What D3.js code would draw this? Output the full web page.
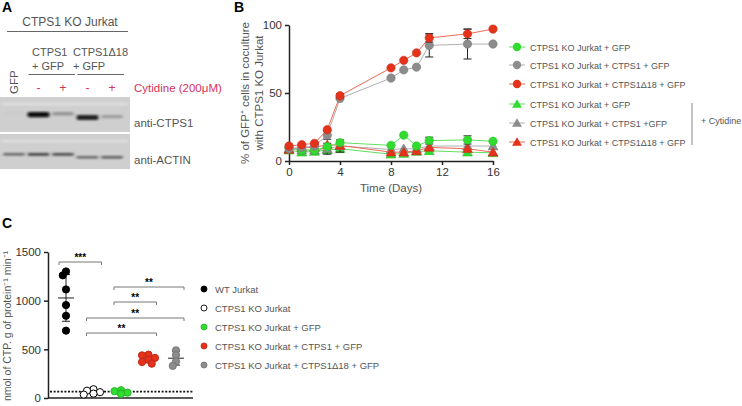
<!DOCTYPE html>
<meta charset="utf-8">
<style>
body { margin: 0; background: #fff; }
svg { font-family: "Liberation Sans", Arial, sans-serif; }
.axis path, .axis line { stroke: #222; stroke-width: 1.5px; }
.axis text { font-size: 11.5px; fill: #333; font-family: "Liberation Sans", Arial, sans-serif; }
.lbl { fill: #555; }
</style>
<body>
<script src="https://d3js.org/d3.v7.min.js"></script>
<script>

// ---- panel A: blot lanes and band strengths (0..1)
const lanes = ["GFP", "CTPS1 -", "CTPS1 +", "CTPS1Δ18 -", "CTPS1Δ18 +"];
const cytidine = ["", "-", "+", "-", "+"];
const ctpsBand = [0.02, 0.95, 0.3, 0.85, 0.25];
const actinBand = [0.55, 0.7, 0.65, 0.55, 0.6];

// ---- panel B: coculture time course
const days = [0, 1, 2, 3, 4, 8, 9, 10, 11, 14, 16];
const koGfp      = [10, 8, 8, 10.5, 13.5, 11.5, 19, 11, 15, 15.5, 14.5];
const ctpsGfp    = [9, 10, 11, 19, 46, 61, 67, 69, 85, 86, 86];
const d18Gfp     = [11, 12, 13, 23, 48, 68.5, 74, 79.5, 90.5, 93.5, 97];
const koGfpCyt   = [8, 6.5, 7, 8, 9, 5, 5.5, 7, 7.5, 6.5, 6];
const ctpsGfpCyt = [9, 8, 8, 9, 11, 8.5, 9, 9, 11, 11, 11];
const d18GfpCyt  = [8.5, 10, 10, 12, 11.5, 6.5, 6.5, 7.5, 10, 9, 6.5];
const koGfpSd      = [0, 0, 0, 0, 0, 0, 0, 0, 2.5, 3, 0];
const ctpsGfpSd    = [0, 0, 0, 3, 0, 0, 0, 0, 8.5, 11, 0];
const d18GfpSd     = [0, 0, 0, 0, 1.5, 0, 0, 0, 3, 3.5, 0];
const ctpsGfpCytSd = [0, 0, 0, 4, 4.5, 0, 0, 0, 0, 0, 0];
const xTicksB = [0, 4, 8, 12, 16];
const yTicksB = [0, 50, 100];

// ---- panel C: CTP synthase activity
const groupsC = ["WT Jurkat", "CTPS1 KO Jurkat", "CTPS1 KO Jurkat +  GFP",
                 "CTPS1 KO Jurkat + CTPS1 + GFP", "CTPS1 KO Jurkat + CTPS1Δ18 + GFP"];
const wtVals   = [1300, 1260, 1115, 955, 845, 692];
const koVals   = [90, 75, 60, 45, 35];
const gfpVals  = [80, 70, 55, 48, 42];
const ctpsVals = [445, 438, 412, 392, 370, 352];
const d18Vals  = [490, 440, 375, 330];
const detectLimit = 65;
const yTicksC = [0, 500, 1000, 1500];
const sigC = [
  { from: 0, to: 1, label: "***" },
  { from: 2, to: 4, label: "**" },
  { from: 2, to: 3, label: "**" },
  { from: 1, to: 4, label: "**" },
  { from: 1, to: 3, label: "**" }
];

const red = "#e5321b", grey = "#8c8c8c", green = "#2fdc2f";

const svg = d3.select("body").append("svg")
    .attr("width", 742).attr("height", 406);

const defs = svg.append("defs");
defs.append("filter").attr("id", "blur").attr("x", "-50%").attr("width", "200%")
  .attr("y", "-100%").attr("height", "300%")
  .append("feGaussianBlur").attr("stdDeviation", "1.8 0.9");

// ================= Panel A =================
const A = svg.append("g");
A.append("text").attr("x", 2).attr("y", 12).attr("font-size", 14).attr("font-weight", "bold").text("A");

const laneX = d3.scalePoint().domain(lanes).range([14, 112]);

A.append("text").attr("x", 70).attr("y", 26).attr("text-anchor", "middle")
  .attr("font-size", 12).attr("class", "lbl").text("CTPS1 KO Jurkat");
A.append("line").attr("x1", 7).attr("x2", 128).attr("y1", 31.5).attr("y2", 31.5).attr("stroke", "#666");

[["CTPS1", 1, 2, 32], ["CTPS1Δ18", 3, 4, 73]].forEach(([name, a, b, tx]) => {
  A.append("text").attr("x", tx).attr("y", 56).attr("font-size", 11).attr("class", "lbl").text(name);
  A.append("text").attr("x", tx).attr("y", 70).attr("font-size", 11).attr("class", "lbl").text("+ GFP");
  A.append("line").attr("x1", laneX(lanes[a]) - 10).attr("x2", laneX(lanes[b]) + 12)
    .attr("y1", 74.5).attr("y2", 74.5).attr("stroke", "#666");
});

A.append("text").attr("transform", `translate(${laneX(lanes[0]) + 4},94) rotate(-90)`)
  .attr("font-size", 11.5).attr("class", "lbl").text("GFP");
A.selectAll(".cyt").data(cytidine).join("text")
  .attr("x", (d, i) => laneX(lanes[i])).attr("y", 92).attr("text-anchor", "middle")
  .attr("font-size", 12).attr("fill", "#d6315a").text(d => d);
A.append("text").attr("x", 134).attr("y", 92).attr("font-size", 11.5).attr("fill", "#d6315a")
  .text("Cytidine (200μM)");

function blot(y0, h, vals, bandY, bandH, label) {
  A.append("rect").attr("x", 0).attr("y", y0).attr("width", 130).attr("height", h).attr("fill", "#cfcfcf");
  A.append("rect").attr("x", 2).attr("y", y0 + 6).attr("width", 126).attr("height", 2)
    .attr("fill", "#e2e2e2").attr("filter", "url(#blur)");
  A.selectAll(null).data(vals).join("rect")
    .attr("x", (d, i) => laneX(lanes[i]) - 11)
    .attr("y", (d, i) => bandY + (i >= 3 ? 3 : 0))
    .attr("width", 22).attr("height", d => bandH * (0.5 + d * 0.6))
    .attr("rx", 2)
    .attr("fill", d => d3.interpolateGreys(0.3 + d * 0.7))
    .attr("filter", "url(#blur)");
  A.append("text").attr("x", 134).attr("y", y0 + h - 5).attr("font-size", 11.5).attr("class", "lbl").text(label);
}
blot(97, 35, ctpsBand, 112, 5, "anti-CTPS1");
blot(134, 35, actinBand, 153, 3, "anti-ACTIN");

// ================= Panel B =================
const B = svg.append("g");
B.append("text").attr("x", 234).attr("y", 12).attr("font-size", 14).attr("font-weight", "bold").text("B");

const xB = d3.scaleLinear().domain([0, 16]).range([289, 493]);
const yB = d3.scaleLinear().domain([0, 100]).range([161, 25]);

B.append("g").attr("class", "axis").attr("transform", "translate(0,161)")
  .call(d3.axisBottom(xB).tickValues(xTicksB).tickSize(4).tickSizeOuter(0));
B.append("g").attr("class", "axis").attr("transform", "translate(289,0)")
  .call(d3.axisLeft(yB).tickValues(yTicksB).tickSize(4).tickSizeOuter(0));

B.append("text").attr("x", 391).attr("y", 192).attr("text-anchor", "middle")
  .attr("font-size", 11.5).attr("class", "lbl").text("Time (Days)");
const yLab = B.append("text").attr("transform", "translate(251,93) rotate(-90)")
  .attr("text-anchor", "middle").attr("font-size", 11.5).attr("class", "lbl");
yLab.append("tspan").attr("x", 0).attr("dy", -2).text("% of GFP⁺ cells in coculture");
yLab.append("tspan").attr("x", 0).attr("dy", 14).text("with CTPS1 KO Jurkat");

const seriesB = [
  { name: "CTPS1 KO Jurkat + GFP", vals: koGfp, sd: koGfpSd, color: green, line: "#5fe05f", shape: "circle" },
  { name: "CTPS1 KO Jurkat + CTPS1 + GFP", vals: ctpsGfp, sd: ctpsGfpSd, color: grey, line: "#b0b0b0", shape: "circle" },
  { name: "CTPS1 KO Jurkat + CTPS1Δ18 + GFP", vals: d18Gfp, sd: d18GfpSd, color: red, line: "#ee6a55", shape: "circle" },
  { name: "CTPS1 KO Jurkat +  GFP", vals: koGfpCyt, sd: null, color: green, line: "#5fe05f", shape: "triangle" },
  { name: "CTPS1 KO Jurkat + CTPS1 +GFP", vals: ctpsGfpCyt, sd: ctpsGfpCytSd, color: grey, line: "#b0b0b0", shape: "triangle" },
  { name: "CTPS1 KO Jurkat + CTPS1Δ18 + GFP", vals: d18GfpCyt, sd: null, color: red, line: "#ee6a55", shape: "triangle" }
];

const sym = s => d3.symbol().type(s === "circle" ? d3.symbolCircle : d3.symbolTriangle)
  .size(s === "circle" ? 55 : 42)();
const line = d3.line().x((d, i) => xB(days[i])).y(d => yB(d));

// draw cytidine series underneath, then main ones
[3, 4, 5, 0, 1, 2].forEach(k => {
  const s = seriesB[k];
  const g = B.append("g");
  g.append("path").attr("d", line(s.vals)).attr("fill", "none").attr("stroke", s.line).attr("stroke-width", 1);
  if (s.sd) {
    const eb = days.map((d, i) => ({ x: d, v: s.vals[i], e: s.sd[i] })).filter(d => d.e > 0);
    g.selectAll(null).data(eb).join("path")
      .attr("d", d => `M${xB(d.x)},${yB(d.v - d.e)}V${yB(d.v + d.e)}` +
        `M${xB(d.x) - 4},${yB(d.v - d.e)}h8M${xB(d.x) - 4},${yB(d.v + d.e)}h8`)
      .attr("stroke", "#222").attr("stroke-width", 1).attr("fill", "none");
  }
  g.selectAll(null).data(s.vals).join("path")
    .attr("d", sym(s.shape))
    .attr("transform", (d, i) => `translate(${xB(days[i])},${yB(d) + (s.shape === "triangle" ? 1 : 0)})`)
    .attr("fill", s.color).attr("stroke", d3.color(s.color).darker(0.4)).attr("stroke-width", 0.6);
});

// legend B
const legY = [47, 65, 84, 104, 123, 142];
seriesB.forEach((s, i) => {
  const g = B.append("g").attr("transform", `translate(517,${legY[i]})`);
  g.append("line").attr("x1", -8).attr("x2", 8).attr("stroke", s.line).attr("stroke-width", 1);
  g.append("path").attr("d", sym(s.shape)).attr("fill", s.color).attr("transform", s.shape === "triangle" ? "translate(0,1)" : null);
  g.append("text").attr("x", 13).attr("y", 3.5).attr("font-size", 9).attr("class", "lbl").text(s.name);
});
B.append("line").attr("x1", 692).attr("x2", 692).attr("y1", 103).attr("y2", 145).attr("stroke", "#888");
B.append("text").attr("x", 701).attr("y", 124).attr("font-size", 9).attr("class", "lbl").text("+ Cytidine");

// ================= Panel C =================
const C = svg.append("g");
C.append("text").attr("x", 2).attr("y", 228).attr("font-size", 14).attr("font-weight", "bold").text("C");

const xC = d3.scalePoint().domain(groupsC).range([66, 176]);
const yC = d3.scaleLinear().domain([0, 1500]).range([398, 252]);

C.append("g").attr("class", "axis").attr("transform", "translate(48,0)")
  .call(d3.axisLeft(yC).tickValues(yTicksC).tickSize(4).tickSizeOuter(0).tickFormat(d3.format("d")));
C.append("line").attr("x1", 48).attr("x2", 193).attr("y1", 398).attr("y2", 398)
  .attr("stroke", "#222").attr("stroke-width", 1.5);

C.append("text").attr("transform", "translate(11,326) rotate(-90)").attr("text-anchor", "middle")
  .attr("font-size", 10.5).attr("class", "lbl").text("nmol of CTP. g of protein⁻¹ min⁻¹");

C.append("line").attr("x1", 50).attr("x2", 193).attr("y1", yC(detectLimit)).attr("y2", yC(detectLimit))
  .attr("stroke", "#111").attr("stroke-width", 1.6).attr("stroke-dasharray", "2,1.6");

const setsC = [
  { vals: wtVals, fill: "#000", stroke: "#000" },
  { vals: koVals, fill: "#fff", stroke: "#000" },
  { vals: gfpVals, fill: green, stroke: "#28b828" },
  { vals: ctpsVals, fill: red, stroke: "#c4281a" },
  { vals: d18Vals, fill: grey, stroke: "#777" }
];
const r = 3.6;
setsC.forEach((s, gi) => {
  const cx = xC(groupsC[gi]);
  const m = d3.mean(s.vals), sd = d3.deviation(s.vals);
  if (gi === 0 || gi >= 3) {
    C.append("path")
      .attr("d", `M${cx - 8},${yC(m)}h16M${cx},${yC(m - sd)}V${yC(m + sd)}M${cx - 4},${yC(m - sd)}h8M${cx - 4},${yC(m + sd)}h8`)
      .attr("stroke", "#222").attr("stroke-width", 1).attr("fill", "none");
  }
  // simple beeswarm placement
  const placed = [];
  s.vals.forEach(v => {
    const y = yC(v);
    let off = 0;
    const steps = [0, -r * 0.9, r * 0.9, -r * 1.8, r * 1.8, -r * 2.7, r * 2.7];
    for (const st of steps) {
      if (placed.every(p => Math.hypot(p.x - (cx + st), p.y - y) >= r * 1.3)) { off = st; break; }
    }
    placed.push({ x: cx + off, y });
  });
  C.selectAll(null).data(placed).join("circle")
    .attr("cx", d => d.x).attr("cy", d => d.y).attr("r", r)
    .attr("fill", s.fill).attr("stroke", s.stroke).attr("stroke-width", 1);
});

// significance brackets
const sigY = [262, 287, 302, 318, 333];
sigC.forEach((b, i) => {
  const x1 = xC(groupsC[b.from]) - 7, x2 = xC(groupsC[b.to]) + 8, y = sigY[i];
  C.append("path").attr("d", `M${x1},${y + 3}V${y}H${x2}V${y + 3}`)
    .attr("stroke", "#777").attr("fill", "none").attr("stroke-width", 1);
  C.append("text").attr("x", (x1 + x2) / 2).attr("y", y - 1).attr("text-anchor", "middle")
    .attr("font-size", 10).attr("font-weight", "bold").attr("fill", "#000").text(b.label);
});

// legend C
const legC = C.append("g").attr("transform", "translate(204,289)");
setsC.forEach((s, i) => {
  const g = legC.append("g").attr("transform", `translate(0,${i * 19})`);
  g.append("circle").attr("r", 3).attr("fill", s.fill).attr("stroke", s.stroke).attr("stroke-width", 0.9);
  g.append("text").attr("x", 11).attr("y", 3.5).attr("font-size", 9.5).attr("class", "lbl").text(groupsC[i]);
});
</script>
</body>
